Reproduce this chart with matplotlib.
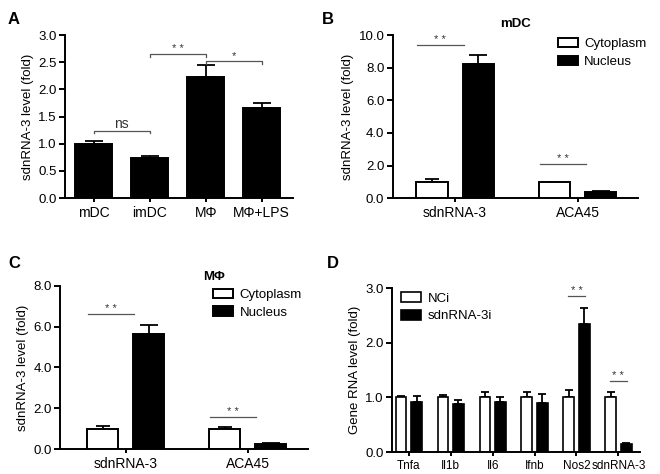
import matplotlib
matplotlib.use("Agg")
import matplotlib.pyplot as plt
import numpy as np

plt.rcParams['font.family'] = ['Liberation Sans', 'DejaVu Sans']

# Panel A
a_cats = ["mDC", "imDC", "MΦ", "MΦ+LPS"]
a_vals = [1.0, 0.74, 2.23, 1.66]
a_err = [0.05, 0.04, 0.22, 0.09]

# Panel B (mDC)
b_cats = ["sdnRNA-3", "ACA45"]
b_cyto = [1.0, 1.0]
b_cyto_err = [0.17, 0.02]
b_nuc = [8.25, 0.38]
b_nuc_err = [0.55, 0.04]

# Panel C (MΦ)
c_cats = ["sdnRNA-3", "ACA45"]
c_cyto = [1.0, 1.0]
c_cyto_err = [0.12, 0.08]
c_nuc = [5.62, 0.25]
c_nuc_err = [0.48, 0.05]

# Panel D
d_cats = ["Tnfa", "Il1b", "Il6", "Ifnb", "Nos2", "sdnRNA-3"]
d_nci = [1.0, 1.0, 1.0, 1.0, 1.0, 1.0]
d_nci_err = [0.03, 0.04, 0.09, 0.09, 0.14, 0.10]
d_si = [0.91, 0.87, 0.91, 0.89, 2.35, 0.14]
d_si_err = [0.11, 0.08, 0.09, 0.18, 0.28, 0.02]

fig = plt.figure(figsize=(6.6, 4.74), dpi=100)

LW = 1.4
YTICKFS = 9.5
XTICKFS = 10
LABFS = 9.5
GRAY = "#555555"


def style(ax, xfs=XTICKFS):
    for s in ["top", "right"]:
        ax.spines[s].set_visible(False)
    for s in ["left", "bottom"]:
        ax.spines[s].set_linewidth(LW)
    ax.tick_params(axis="y", direction="out", length=4, width=LW, labelsize=YTICKFS, pad=2)
    ax.tick_params(axis="x", direction="out", length=3, width=LW, labelsize=xfs, pad=3)


def upbars(ax, x, y, e, capsize):
    ax.errorbar(x, y, yerr=[np.zeros(len(e)), e], fmt="none", ecolor="black",
                elinewidth=1.3, capsize=capsize, capthick=1.3, zorder=1)


def sig(ax, x0, x1, y, text, ticks=0.0, fs=8):
    if ticks:
        ax.plot([x0, x0, x1, x1], [y - ticks, y, y, y - ticks], color=GRAY, lw=0.9)
    else:
        ax.plot([x0, x1], [y, y], color=GRAY, lw=0.9)
    ax.text((x0 + x1) / 2, y, text, ha="center", va="bottom", fontsize=fs, color="#333333")


LEG = dict(frameon=False, fontsize=9.5, handlelength=1.5, handleheight=0.75,
           handletextpad=0.5, labelspacing=0.4, borderpad=0.2)

# ---- Panel A ----
axA = fig.add_axes([0.0985, 0.582, 0.3455, 0.344])
xa = np.arange(len(a_cats))
axA.bar(xa, a_vals, width=0.66, color="black", edgecolor="black", linewidth=LW, zorder=2)
upbars(axA, xa, a_vals, a_err, 6.5)
axA.set_xlim(-0.51, 3.56)
axA.set_ylim(0, 3.0)
axA.set_yticks(np.arange(0, 3.01, 0.5))
axA.set_yticklabels([f"{v:.1f}" for v in np.arange(0, 3.01, 0.5)])
axA.set_xticks(xa)
axA.set_xticklabels(a_cats)
axA.set_ylabel("sdnRNA-3 level (fold)", fontsize=LABFS, labelpad=3)
style(axA)
sig(axA, 0, 1, 1.23, "ns", ticks=0.04, fs=10)
sig(axA, 1, 2, 2.65, "* *", ticks=0.05)
sig(axA, 2, 3, 2.52, "*", ticks=0.05)

# ---- Panel B ----
axB = fig.add_axes([0.595, 0.582, 0.372, 0.344])
xb = np.arange(len(b_cats))
off = 0.189
bw = 0.254
axB.bar(xb - off, b_cyto, width=bw, color="white", edgecolor="black", linewidth=LW, zorder=2, label="Cytoplasm")
axB.bar(xb + off, b_nuc, width=bw, color="black", edgecolor="black", linewidth=LW, zorder=2, label="Nucleus")
upbars(axB, xb - off, b_cyto, b_cyto_err, 5)
upbars(axB, xb + off, b_nuc, b_nuc_err, 6.5)
axB.set_xlim(-0.51, 1.496)
axB.set_ylim(0, 10.0)
axB.set_yticks(np.arange(0, 10.01, 2))
axB.set_yticklabels([f"{v:.1f}" for v in np.arange(0, 10.01, 2)])
axB.set_xticks(xb)
axB.set_xticklabels(b_cats)
axB.set_ylabel("sdnRNA-3 level (fold)", fontsize=LABFS, labelpad=3)
style(axB)
axB.set_title("mDC", fontsize=9.5, fontweight="bold", pad=6)
sig(axB, -0.31, 0.07, 9.4, "* *")
sig(axB, 0.69, 1.07, 2.1, "* *")
axB.legend(loc="upper left", bbox_to_anchor=(0.635, 1.04), **LEG)

# ---- Panel C ----
axC = fig.add_axes([0.091, 0.0527, 0.376, 0.3443])
xc = np.arange(len(c_cats))
axC.bar(xc - off, c_cyto, width=bw, color="white", edgecolor="black", linewidth=LW, zorder=2, label="Cytoplasm")
axC.bar(xc + off, c_nuc, width=bw, color="black", edgecolor="black", linewidth=LW, zorder=2, label="Nucleus")
upbars(axC, xc - off, c_cyto, c_cyto_err, 5)
upbars(axC, xc + off, c_nuc, c_nuc_err, 6.5)
axC.set_xlim(-0.537, 1.496)
axC.set_ylim(0, 8.0)
axC.set_yticks(np.arange(0, 8.01, 2))
axC.set_yticklabels([f"{v:.1f}" for v in np.arange(0, 8.01, 2)])
axC.set_xticks(xc)
axC.set_xticklabels(c_cats)
axC.set_ylabel("sdnRNA-3 level (fold)", fontsize=LABFS, labelpad=3)
style(axC)
axC.text(0.62, 1.02, "MΦ", transform=axC.transAxes, ha="center", va="bottom",
         fontsize=9.5, fontweight="bold")
sig(axC, -0.31, 0.07, 6.6, "* *")
sig(axC, 0.69, 1.07, 1.55, "* *")
axC.legend(loc="upper left", bbox_to_anchor=(0.58, 1.04), **LEG)

# ---- Panel D ----
axD = fig.add_axes([0.594, 0.0464, 0.376, 0.346])
xd = np.arange(len(d_cats))
doff = 0.185
dbw = 0.255
axD.bar(xd - doff, d_nci, width=dbw, color="white", edgecolor="black", linewidth=1.2, zorder=2, label="NCi")
axD.bar(xd + doff, d_si, width=dbw, color="black", edgecolor="black", linewidth=1.2, zorder=2, label="sdnRNA-3i")
upbars(axD, xd - doff, d_nci, d_nci_err, 3)
upbars(axD, xd + doff, d_si, d_si_err, 3)
axD.set_xlim(-0.40, 5.52)
axD.set_ylim(0, 3.0)
axD.set_yticks(np.arange(0, 3.01, 1))
axD.set_yticklabels([f"{v:.1f}" for v in np.arange(0, 3.01, 1)])
axD.set_xticks(xd)
axD.set_xticklabels(d_cats)
axD.set_ylabel("Gene RNA level (fold)", fontsize=LABFS, labelpad=3)
style(axD, xfs=8.5)
sig(axD, 3.8, 4.2, 2.85, "* *")
sig(axD, 4.8, 5.2, 1.3, "* *")
axD.legend(loc="upper left", bbox_to_anchor=(0.0, 1.03), **LEG)

# Panel letters
for lbl, x, y in [("A", 0.012, 0.975), ("B", 0.488, 0.975), ("C", 0.012, 0.46), ("D", 0.495, 0.46)]:
    fig.text(x, y, lbl, fontsize=12, fontweight="bold", ha="left", va="top")

fig.savefig("out.png", dpi=100)
